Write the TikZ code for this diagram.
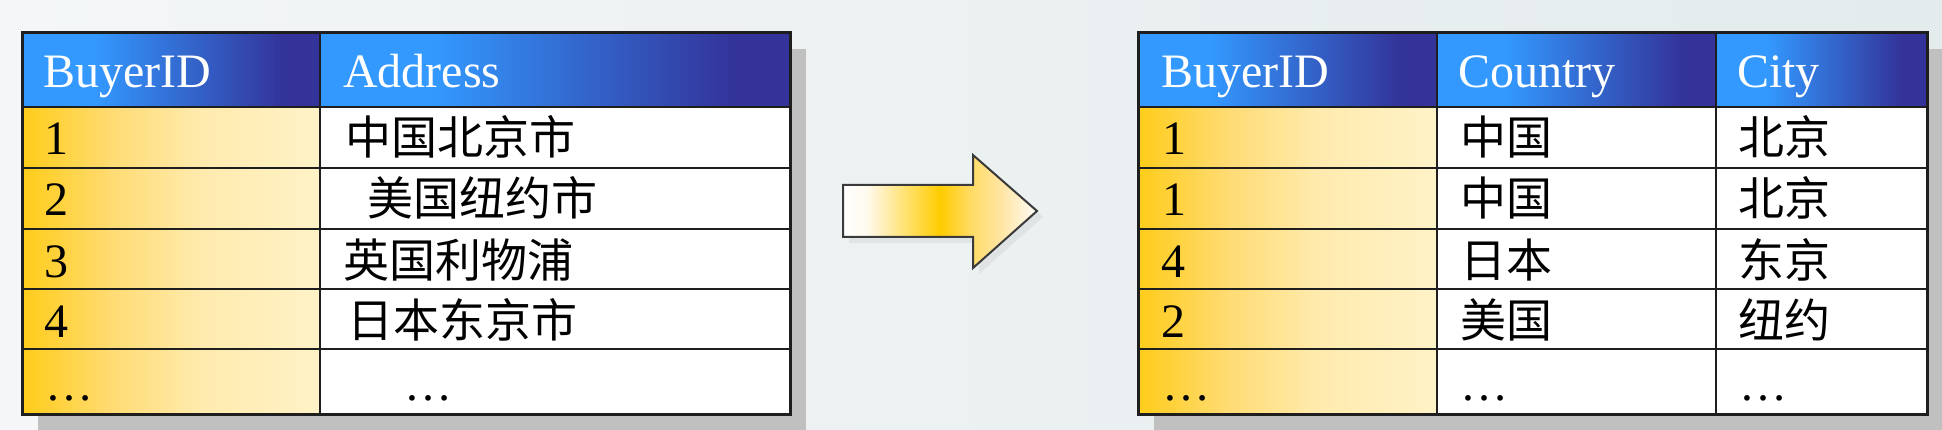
\documentclass[tikz,border=0pt]{standalone}
\usepackage{fontspec}
\setmainfont{Liberation Serif}
\newfontfamily\cjk{Noto Sans CJK SC}
\definecolor{bgleft}{HTML}{F4F6F7}
\definecolor{bgright}{HTML}{E3EBEC}
\definecolor{shadowc}{HTML}{C0C0C0}
\definecolor{linec}{HTML}{1E1E1E}
\definecolor{arrowline}{HTML}{3A3A3A}
\pgfdeclarehorizontalshading{bluehdr}{100bp}{rgb(0bp)=(0.2,0.6,1); rgb(25bp)=(0.2,0.6,1); rgb(37bp)=(0.2,0.6,1); rgb(69bp)=(0.2,0.2,0.6); rgb(100bp)=(0.2,0.2,0.6)}
\pgfdeclarehorizontalshading{goldrow}{100bp}{rgb(0bp)=(1,0.8,0.1); rgb(25bp)=(1,0.8,0.1); rgb(40bp)=(1,0.86,0.45); rgb(55bp)=(1,0.92,0.68); rgb(75bp)=(1,0.95,0.78); rgb(100bp)=(1,0.95,0.78)}
\pgfdeclarehorizontalshading{arrowshade}{100bp}{rgb(0bp)=(1,1,1); rgb(25bp)=(1,1,1); rgb(31bp)=(1,0.98,0.94); rgb(50bp)=(1,0.8,0); rgb(58bp)=(1,0.86,0.4); rgb(66bp)=(1,0.9,0.65); rgb(75bp)=(1,0.99,0.97); rgb(100bp)=(1,0.99,0.97)}
\tikzset{
  cellbox/.style={rectangle,inner sep=0pt,outer sep=0pt,draw=linec,line width=2pt},
  hdrcell/.style={cellbox,shading=bluehdr},
  idcell/.style={cellbox,shading=goldrow},
  plaincell/.style={cellbox,fill=white},
  shadowbox/.style={rectangle,inner sep=0pt,outer sep=0pt,fill=shadowc,draw=none},
  framebox/.style={rectangle,inner sep=0pt,outer sep=0pt,draw=linec,line width=3pt,fill=none},
  hdrtxt/.style={inner sep=0pt,text=white,font=\fontsize{48}{48}\selectfont},
  bodytxt/.style={inner sep=0pt,text=black,font=\fontsize{48}{48}\selectfont},
  cjktxt/.style={inner sep=0pt,text=black,font=\cjk\fontsize{46}{46}\selectfont},
}
\newcommand\tcell[6]{\node[#6,minimum width={(#4-#2)*1pt},minimum height={(#5-#3)*1pt},anchor=north west] (#1) at (#2,#3) {};}
\newcommand\ttxt[5]{\node[#5,anchor=base west] (#1) at (#2,#3) {#4};}
\begin{document}
\begin{tikzpicture}[x=1pt,y=-1pt]
\useasboundingbox (0,0) rectangle (1942,430);
\shade[left color=bgleft,right color=bgright] (0,0) rectangle (1942,430);
% ---------- left table ----------
\tcell{Lshadow}{38}{49}{806}{430}{shadowbox}
\tcell{LH1}{22}{33}{320}{107}{hdrcell}
\tcell{LH2}{320}{33}{790}{107}{hdrcell}
\tcell{LA1}{22}{107}{320}{168}{idcell}
\tcell{LB1}{320}{107}{790}{168}{plaincell}
\tcell{LA2}{22}{168}{320}{229}{idcell}
\tcell{LB2}{320}{168}{790}{229}{plaincell}
\tcell{LA3}{22}{229}{320}{289}{idcell}
\tcell{LB3}{320}{229}{790}{289}{plaincell}
\tcell{LA4}{22}{289}{320}{349}{idcell}
\tcell{LB4}{320}{289}{790}{349}{plaincell}
\tcell{LA5}{22}{349}{320}{414}{idcell}
\tcell{LB5}{320}{349}{790}{414}{plaincell}
\tcell{Lframe}{22}{33}{790}{414}{framebox}
\ttxt{tLH1}{43}{88}{BuyerID}{hdrtxt}
\ttxt{tLH2}{343}{88}{Address}{hdrtxt}
\ttxt{tLA1}{44}{155}{1}{bodytxt}
\ttxt{tLA2}{44}{216}{2}{bodytxt}
\ttxt{tLA3}{44}{277}{3}{bodytxt}
\ttxt{tLA4}{44}{337}{4}{bodytxt}
\ttxt{tLA5}{45}{400}{…}{bodytxt}
\ttxt{tLB1}{345}{155}{中国北京市}{cjktxt}
\ttxt{tLB2}{367}{216}{美国纽约市}{cjktxt}
\ttxt{tLB3}{343}{277}{英国利物浦}{cjktxt}
\ttxt{tLB4}{347}{337}{日本东京市}{cjktxt}
\ttxt{tLB5}{404}{400}{…}{bodytxt}
% ---------- arrow ----------
\fill[shadowc,opacity=0.25] (849,191) -- (979,191) -- (979,161) -- (1043,217) -- (979,274) -- (979,243) -- (849,243) -- cycle;
\shadedraw[shading=arrowshade,draw=arrowline,line width=2pt,line join=miter] (843,185) -- (973,185) -- (973,155) -- (1037,211) -- (973,268) -- (973,237) -- (843,237) -- cycle;
% ---------- right table ----------
\tcell{Rshadow}{1154}{49}{1943}{430}{shadowbox}
\tcell{RH1}{1138}{33}{1437}{107}{hdrcell}
\tcell{RH2}{1437}{33}{1716}{107}{hdrcell}
\tcell{RH3}{1716}{33}{1927}{107}{hdrcell}
\tcell{RA1}{1138}{107}{1437}{168}{idcell}
\tcell{RB1}{1437}{107}{1716}{168}{plaincell}
\tcell{RC1}{1716}{107}{1927}{168}{plaincell}
\tcell{RA2}{1138}{168}{1437}{229}{idcell}
\tcell{RB2}{1437}{168}{1716}{229}{plaincell}
\tcell{RC2}{1716}{168}{1927}{229}{plaincell}
\tcell{RA3}{1138}{229}{1437}{289}{idcell}
\tcell{RB3}{1437}{229}{1716}{289}{plaincell}
\tcell{RC3}{1716}{229}{1927}{289}{plaincell}
\tcell{RA4}{1138}{289}{1437}{349}{idcell}
\tcell{RB4}{1437}{289}{1716}{349}{plaincell}
\tcell{RC4}{1716}{289}{1927}{349}{plaincell}
\tcell{RA5}{1138}{349}{1437}{414}{idcell}
\tcell{RB5}{1437}{349}{1716}{414}{plaincell}
\tcell{RC5}{1716}{349}{1927}{414}{plaincell}
\tcell{Rframe}{1138}{33}{1927}{414}{framebox}
\ttxt{tRH1}{1161}{88}{BuyerID}{hdrtxt}
\ttxt{tRH2}{1458}{88}{Country}{hdrtxt}
\ttxt{tRH3}{1737}{88}{City}{hdrtxt}
\ttxt{tRA1}{1162}{155}{1}{bodytxt}
\ttxt{tRA2}{1162}{216}{1}{bodytxt}
\ttxt{tRA3}{1161}{277}{4}{bodytxt}
\ttxt{tRA4}{1161}{337}{2}{bodytxt}
\ttxt{tRA5}{1162}{400}{…}{bodytxt}
\ttxt{tRB1}{1460}{155}{中国}{cjktxt}
\ttxt{tRB2}{1460}{216}{中国}{cjktxt}
\ttxt{tRB3}{1460}{277}{日本}{cjktxt}
\ttxt{tRB4}{1460}{337}{美国}{cjktxt}
\ttxt{tRB5}{1460}{400}{…}{bodytxt}
\ttxt{tRC1}{1738}{155}{北京}{cjktxt}
\ttxt{tRC2}{1738}{216}{北京}{cjktxt}
\ttxt{tRC3}{1738}{277}{东京}{cjktxt}
\ttxt{tRC4}{1738}{337}{纽约}{cjktxt}
\ttxt{tRC5}{1739}{400}{…}{bodytxt}
\end{tikzpicture}
\end{document}
